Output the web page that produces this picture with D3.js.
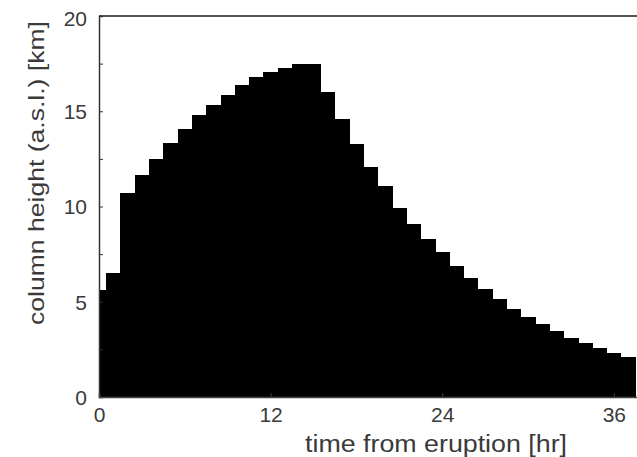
<!DOCTYPE html>
<html>
<head>
<meta charset="utf-8">
<script src="https://cdn.jsdelivr.net/npm/d3@7"></script>
<style>
  html, body { margin: 0; padding: 0; background: #fff; }
  svg { display: block; }
  text { font-family: "Liberation Sans", Arial, sans-serif; fill: #3a3a3a; }
</style>
</head>
<body>
<script>
// hours from eruption (bar centres)
const hours = [0,1,2,3,4,5,6,7,8,9,10,11,12,13,14,15,16,17,18,19,20,21,22,23,24,25,26,27,28,29,30,31,32,33,34,35,36,37];
// column height (km a.s.l.)
const heights = [5.6,6.5,10.7,11.65,12.48,13.33,14.06,14.82,15.35,15.87,16.38,16.81,17.08,17.25,17.46,17.46,16.0,14.6,13.3,12.05,11.06,9.92,9.08,8.29,7.63,6.88,6.23,5.67,5.14,4.62,4.18,3.83,3.46,3.08,2.82,2.56,2.29,2.08];
const xTicks = [0,12,24,36];
const yTicks = [0,5,10,15,20];
const yMinorTicks = [2.5,7.5,12.5,17.5];

const W = 637, H = 457;
const svg = d3.select("body").append("svg").attr("width", W).attr("height", H);

const x = d3.scaleLinear().domain([0, 40]).range([99, 99 + 40 * 14.3]);
const y = d3.scaleLinear().domain([0, 20]).range([397, 16]);

// bars
svg.append("g").selectAll("rect").data(hours).join("rect")
  .attr("x", (d) => x(Math.max(0, d - 0.5)))
  .attr("width", (d) => x(d + 0.5) - x(Math.max(0, d - 0.5)) + 0.5)
  .attr("y", (d, i) => y(heights[i]))
  .attr("height", (d, i) => y(0) - y(heights[i]))
  .attr("fill", "#000")
  .attr("shape-rendering", "crispEdges");

// top border
svg.append("line").attr("x1", x(0)).attr("x2", W).attr("y1", y(20)).attr("y2", y(20))
  .attr("stroke", "#555").attr("stroke-width", 2);

// left axis
const yAxis = d3.axisLeft(y).tickValues(yTicks).tickSize(-4).tickPadding(12).tickFormat(d3.format("d"));
const gy = svg.append("g").attr("transform", `translate(${x(0)},0)`).call(yAxis);
gy.select(".domain").attr("stroke", "#333").attr("stroke-width", 1.5);
gy.selectAll(".tick line").attr("stroke", "#333");
gy.selectAll(".tick text").style("font-size", "21px").attr("fill", "#3a3a3a").attr("dy", "0.35em");
gy.selectAll(".tick").filter(d => d === 20).select("text").attr("dy", "0.45em");

const gyMinor = svg.append("g").attr("transform", `translate(${x(0)},0)`)
  .call(d3.axisLeft(y).tickValues(yMinorTicks).tickSize(-4).tickFormat(""));
gyMinor.select(".domain").remove();
gyMinor.selectAll(".tick line").attr("stroke", "#333");

// bottom axis
const xAxis = d3.axisBottom(x).tickValues(xTicks).tickSize(-4).tickPadding(10).tickFormat(d3.format("d"));
const gx = svg.append("g").attr("transform", `translate(0,${y(0)})`).call(xAxis);
gx.select(".domain").attr("stroke", "#444").attr("stroke-width", 1.5);
gx.selectAll(".tick line").attr("stroke", "#444");
gx.selectAll(".tick text").style("font-size", "21px").attr("fill", "#3a3a3a");

// axis titles
svg.append("text")
  .attr("x", 305).attr("y", 452)
  .attr("textLength", 262).attr("lengthAdjust", "spacingAndGlyphs")
  .style("font-size", "23px")
  .text("time from eruption [hr]");

svg.append("text")
  .attr("transform", "translate(44,325) rotate(-90)")
  .attr("x", 0).attr("y", 0)
  .attr("textLength", 304).attr("lengthAdjust", "spacingAndGlyphs")
  .style("font-size", "22px")
  .text("column height (a.s.l.) [km]");
</script>
</body>
</html>
